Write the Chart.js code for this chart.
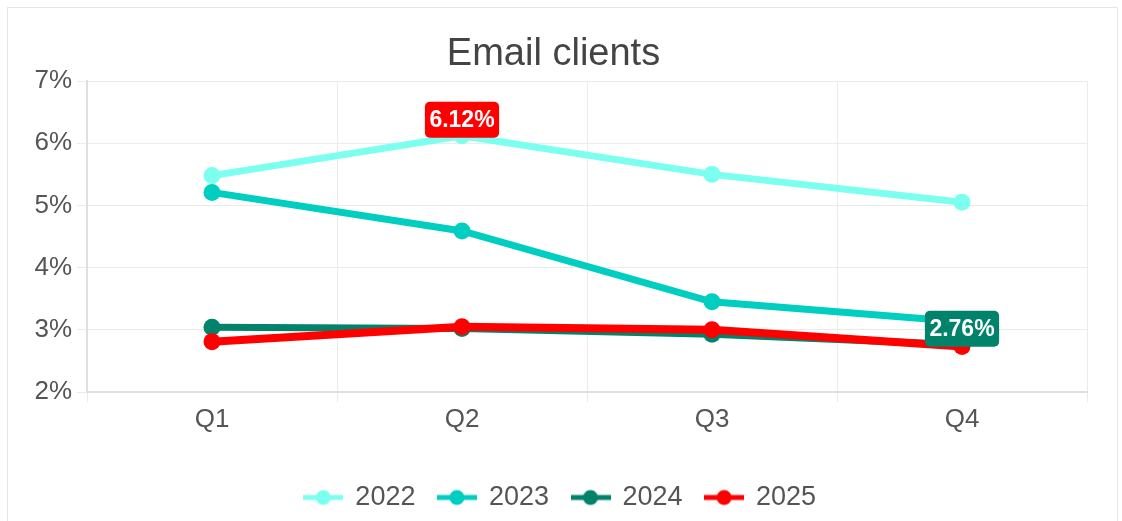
<!DOCTYPE html>
<html>
<head>
<meta charset="utf-8">
<script src="https://cdn.jsdelivr.net/npm/chart.js@4.4.1/dist/chart.umd.min.js"></script>
<style>
  html, body { margin: 0; padding: 0; background: #fff; overflow: hidden; }
  #frame { position: absolute; left: 7px; top: 7px; width: 1111px; height: 600px; border: 1px solid #e6e6e6; box-sizing: border-box; }
  #wrap { position: absolute; left: 0; top: 0; width: 1122px; height: 521px; }
</style>
</head>
<body>
<div id="frame"></div>
<div id="wrap"><canvas id="c" width="1122" height="521"></canvas></div>
<script>
const categories = ['Q1', 'Q2', 'Q3', 'Q4'];
const seriesNames = ['2022', '2023', '2024', '2025'];
const values2022 = [5.48, 6.12, 5.50, 5.05];
const values2023 = [5.21, 4.59, 3.45, 3.13];
const values2024 = [3.04, 3.02, 2.93, 2.76];
const values2025 = [2.81, 3.05, 3.00, 2.73];
const seriesColors = ['#7dfff0', '#00cec1', '#00826b', '#ff0000'];
const yTicks = [2, 3, 4, 5, 6, 7];
// highlighted value labels: [series index, category index, box colour]
const highlightSeries = [0, 2];
const highlightIndex = [1, 3];
const highlightColors = ['#ff0000', '#00826b'];

const allValues = [values2022, values2023, values2024, values2025];
const FONT = "'Liberation Sans', Arial, Helvetica, sans-serif";

function legendImage(color) {
  const cv = document.createElement('canvas');
  cv.width = 40; cv.height = 18;
  const g = cv.getContext('2d');
  g.strokeStyle = color; g.lineWidth = 5;
  g.beginPath(); g.moveTo(0, 9); g.lineTo(40, 9); g.stroke();
  g.fillStyle = color;
  g.beginPath(); g.arc(20, 9, 7.5, 0, Math.PI * 2); g.fill();
  return cv;
}

const datasets = seriesNames.map((name, i) => ({
  label: name,
  data: allValues[i],
  borderColor: seriesColors[i],
  backgroundColor: seriesColors[i],
  pointBackgroundColor: seriesColors[i],
  pointBorderColor: seriesColors[i],
  borderWidth: i === 3 ? 8 : 7,
  pointRadius: 8.5,
  pointBorderWidth: 0,
  tension: 0,
  fill: false,
  order: seriesNames.length - 1 - i
}));

const highlightPlugin = {
  id: 'highlightLabels',
  afterLayout(chart) {
    // the reference title sits slightly left of the plot centre
    if (chart.titleBlock) chart.titleBlock.left -= 14;
  },
  afterDatasetsDraw(chart) {
    const ctx = chart.ctx;
    ctx.save();
    ctx.font = 'bold 23px ' + FONT;
    ctx.textAlign = 'center';
    ctx.textBaseline = 'middle';
    highlightSeries.forEach((s, k) => {
      const idx = highlightIndex[k];
      const v = allValues[s][idx];
      const x = chart.scales.x.getPixelForValue(idx);
      const y = chart.scales.y.getPixelForValue(v);
      const txt = v.toFixed(2) + '%';
      const w = ctx.measureText(txt).width + 9;
      const h = 36;
      const bx = x - w / 2, by = y + 2 - h;
      ctx.fillStyle = highlightColors[k];
      ctx.beginPath();
      ctx.roundRect(bx, by, w, h, 5);
      ctx.fill();
      ctx.fillStyle = '#ffffff';
      ctx.fillText(txt, x, by + h / 2 + 1);
    });
    ctx.restore();
  }
};

new Chart(document.getElementById('c'), {
  type: 'line',
  data: { labels: categories, datasets },
  plugins: [highlightPlugin],
  options: {
    responsive: false,
    animation: false,
    devicePixelRatio: 1,
    layout: { padding: { left: 34, right: 35, top: 20, bottom: 0 } },
    plugins: {
      title: {
        display: true,
        text: 'Email clients',
        color: '#444',
        font: { family: FONT, size: 38, weight: 'normal' },
        padding: { top: 12, bottom: 3.5 }
      },
      legend: {
        position: 'bottom',
        labels: {
          usePointStyle: true,
          pointStyleWidth: 37,
          color: '#555',
          font: { family: FONT, size: 27 },
          padding: 23,
          generateLabels(chart) {
            return chart.data.datasets.map((ds, i) => ({
              text: ds.label,
              fillStyle: ds.borderColor,
              strokeStyle: ds.borderColor,
              lineWidth: 0,
              pointStyle: legendImage(ds.borderColor),
              hidden: !chart.isDatasetVisible(i),
              datasetIndex: i,
              fontColor: '#555'
            }));
          }
        }
      },
      tooltip: { enabled: false }
    },
    scales: {
      x: {
        offset: true,
        afterFit(scale) { scale.height = 69; },
        grid: { offset: true, color: '#ebebeb', tickLength: 10, drawTicks: true },
        border: { color: '#e0e0e0', width: 2 },
        ticks: { color: '#555', font: { family: FONT, size: 26 }, padding: 2 }
      },
      y: {
        min: 2,
        max: 7,
        afterBuildTicks(scale) { scale.ticks = yTicks.map(v => ({ value: v })); },
        afterFit(scale) { scale.width = 53; },
        grid: { color: '#ebebeb', tickLength: 10 },
        border: { color: '#e0e0e0', width: 2 },
        ticks: { color: '#555', font: { family: FONT, size: 26 }, padding: 5, callback: v => v + '%' }
      }
    }
  }
});
</script>
</body>
</html>
